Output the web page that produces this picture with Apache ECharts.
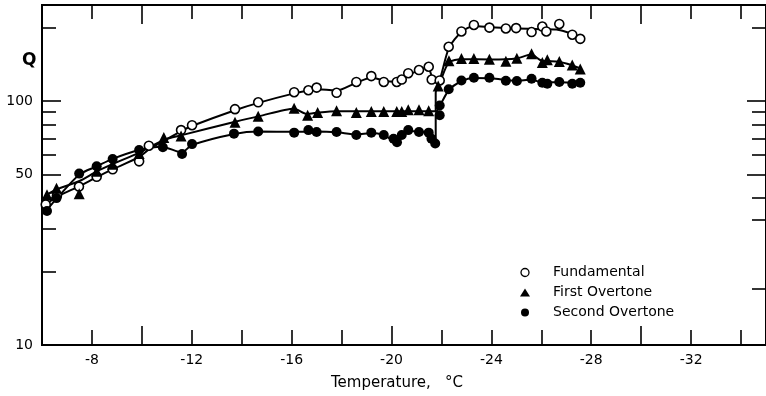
<!DOCTYPE html>
<html><head><meta charset="utf-8">
<script src="https://cdn.jsdelivr.net/npm/echarts@6/dist/echarts.min.js"></script>
<style>html,body{margin:0;padding:0;background:#fff}#c{width:766px;height:396px}</style>
</head><body><div id="c"></div>
<script>
// ---- data (Temperature °C, Q) ----
const fundamentalPts = [[-6.15,37.7],[-6.6,41],[-7.48,44.6],[-8.19,48.9],[-8.83,52.5],[-9.89,56.6],[-10.28,65.6],[-11.57,76],[-12.01,79.6],[-13.73,92.6],[-14.66,98.8],[-16.1,108.7],[-16.67,110.7],[-17.0,113.5],[-17.8,108.1],[-18.59,119.7],[-19.19,126.5],[-19.69,119.7],[-20.21,119.7],[-20.41,122.5],[-20.67,130],[-21.1,134],[-21.49,138.2],[-21.61,122.5],[-21.93,121.4],[-22.29,166.9],[-22.8,192.8],[-23.3,205],[-23.92,200],[-24.58,198.3],[-24.99,199],[-25.61,191.7],[-26.04,202],[-26.2,192.8],[-26.72,207],[-27.24,187],[-27.56,179.8]];
const firstOvertonePts = [[-6.2,41.3],[-6.58,43.9],[-7.49,41.7],[-8.19,51.5],[-8.83,55],[-9.89,61],[-10.88,70.8],[-11.57,71.9],[-13.73,81.9],[-14.66,86.6],[-16.1,93.5],[-16.64,87.4],[-17.04,89.8],[-17.8,91.2],[-18.59,89.8],[-19.19,90.6],[-19.69,90.6],[-20.21,90.6],[-20.41,90.6],[-20.67,92],[-21.1,92],[-21.49,91.2],[-21.87,115.3],[-22.3,146.1],[-22.8,149.4],[-23.3,149.4],[-23.92,148.4],[-24.58,145.6],[-25.02,149.8],[-25.61,156.4],[-26.04,143.9],[-26.24,147.5],[-26.72,145.3],[-27.24,140.4],[-27.56,135.3]];
const secondOvertonePts = [[-6.2,35.4],[-6.58,40],[-7.49,50.4],[-8.19,54],[-8.83,57.9],[-9.89,63],[-10.84,64.6],[-11.61,60.7],[-12.01,66.6],[-13.69,73.5],[-14.66,75],[-16.1,74.2],[-16.67,76],[-17.0,74.7],[-17.8,74.7],[-18.59,72.6],[-19.19,74.2],[-19.69,72.6],[-20.08,70],[-20.22,67.8],[-20.41,72.6],[-20.67,76],[-21.1,74.7],[-21.49,74.2],[-21.6,70],[-21.75,67],[-21.93,87.4],[-21.93,95.8],[-22.29,111.7],[-22.8,121.4],[-23.3,124.5],[-23.92,124.5],[-24.58,121],[-25.02,120.8],[-25.61,123.4],[-26.04,118.9],[-26.24,117.8],[-26.72,119.7],[-27.24,117.8],[-27.56,118.9]];

// hand-drawn fitted curves
const fundamentalCurve = [[-6.1,37.5],[-6.6,40.5],[-7.5,44.8],[-8.2,48.8],[-8.8,52.3],[-9.9,59],[-10.3,63.5],[-11.6,75.5],[-12,79],[-13.7,91.5],[-14.7,98.5],[-16.1,107.5],[-16.7,110.5],[-17.2,111.5],[-17.8,110.5],[-18.6,119],[-19.2,125],[-19.7,121],[-20.2,120],[-20.7,128.5],[-21.1,133.5],[-21.45,137.5],[-21.62,126],[-21.8,119],[-21.93,122],[-22.3,165],[-22.8,192],[-23.3,203],[-24,200.5],[-25,198.5],[-26,197],[-26.6,196.5],[-27.2,189],[-27.6,180]];
const firstOvertoneCurve = [[-6.2,41.3],[-6.6,43.5],[-7.5,47],[-8.2,51.5],[-8.8,55],[-9.9,61.5],[-10.9,69.5],[-11.6,72.5],[-13.7,82],[-14.7,86.7],[-16.1,93],[-16.6,88.5],[-17.1,89.8],[-17.8,90.8],[-19,90.8],[-21.7,90.8],[-21.77,90.8],[-21.77,108],[-21.95,120],[-22.3,144],[-22.8,148.5],[-24,148],[-25,149.5],[-25.6,155],[-26.0,146.5],[-26.7,145],[-27.2,140.5],[-27.6,135.5]];
const secondOvertoneCurve = [[-6.2,35.8],[-6.6,40],[-7.5,50],[-8.2,54],[-8.8,57.8],[-9.9,63],[-10.8,65],[-11.6,61.5],[-12,66],[-13.7,73.3],[-14.7,75],[-16.1,74.8],[-17,75],[-17.8,74.5],[-18.6,73],[-19.2,74],[-19.7,72.5],[-20.15,68.5],[-20.4,71.5],[-20.7,75.5],[-21.1,74.7],[-21.5,74],[-21.65,69],[-21.77,67.3],[-21.77,88],[-21.95,96],[-22.3,111],[-22.8,120.5],[-23.3,124.3],[-24,124],[-25,121],[-25.6,122.5],[-26,119.5],[-26.7,119.5],[-27.6,118.5]];

// ticks / labels
const xLabelValues = [-8,-12,-16,-20,-24,-28,-32];
const xMajorTicks = [-10,-20,-30];
const xMinorTicks = [-8,-12,-14,-16,-18,-22,-24,-26,-28,-32,-34];
const yLabelValues = [10,50,100];
const yLeftMajorTicks = [50,100];
const yLeftMinorTicks = [20,30,40,60,70,80,90,200];
const yRightMajorTicks = [50,100];
const yRightMinorTicks = [17,32.6,40,60,70,80,90,200];

const FONT = 'DejaVu Sans';
const X_MIN = -35, X_MAX = -6, Y_MIN = 10, Y_MAX = 247.5;

function xAxis(pos, ticks, len, labels) {
  return {
    type: 'value', gridIndex: 0, position: pos, min: X_MIN, max: X_MAX, inverse: true,
    axisLine: { show: true, onZero: false, lineStyle: { color: '#000', width: 2 } },
    splitLine: { show: false },
    axisTick: { show: true, inside: true, length: len, customValues: ticks, lineStyle: { color: '#000', width: 1.6 } },
    axisLabel: labels ? { show: true, customValues: labels, color: '#000', fontSize: 14, fontFamily: FONT, margin: 8 } : { show: false },
    name: labels ? 'Temperature,   °C' : '',
    nameLocation: 'middle', nameGap: 31,
    nameTextStyle: { color: '#000', fontSize: 15, fontFamily: FONT, padding: [0, 14, 0, 0] }
  };
}
function yAxis(pos, ticks, len, labels) {
  return {
    type: 'log', logBase: 10, gridIndex: 0, position: pos, min: Y_MIN, max: Y_MAX,
    axisLine: { show: true, onZero: false, lineStyle: { color: '#000', width: 2 } },
    splitLine: { show: false },
    axisTick: { show: true, inside: true, length: len, customValues: ticks, lineStyle: { color: '#000', width: 1.6 } },
    axisLabel: labels ? { show: true, customValues: labels, color: '#000', fontSize: 14, fontFamily: FONT, margin: 9 } : { show: false }
  };
}

const chart = echarts.init(document.getElementById('c'), null, { renderer: 'canvas' });
const lineBase = { type: 'line', xAxisIndex: 0, yAxisIndex: 0, showSymbol: false, smooth: 0.25,
  lineStyle: { color: '#000', width: 2 }, silent: true, z: 2 };
chart.setOption({
  animation: false,
  backgroundColor: '#fff',
  grid: { left: 42, top: 5, width: 729, height: 347, containLabel: false },
  title: { text: 'Q', left: 17, top: 47, textStyle: { fontSize: 17, fontWeight: 'bold', fontFamily: FONT, color: '#000' } },
  legend: {
    orient: 'vertical', left: 515, top: 260, itemWidth: 10, itemHeight: 8, itemGap: 5,
    textStyle: { fontSize: 14, fontFamily: FONT, color: '#000', lineHeight: 15, padding: [0, 0, 0, 18] },
    data: [
      { name: 'Fundamental', icon: 'circle', itemStyle: { color: '#fff', borderColor: '#000', borderWidth: 1.3 } },
      { name: 'First Overtone', icon: 'triangle', itemStyle: { color: '#000' } },
      { name: 'Second Overtone', icon: 'circle', itemStyle: { color: '#000' } }
    ]
  },
  xAxis: [
    xAxis('bottom', xMinorTicks, 15, xLabelValues),
    xAxis('bottom', xMajorTicks, 19, null),
    xAxis('top', xMinorTicks, 14, null),
    xAxis('top', xMajorTicks, 19, null)
  ],
  yAxis: [
    yAxis('left', yLeftMinorTicks, 14, yLabelValues),
    yAxis('left', yLeftMajorTicks, 19, null),
    yAxis('right', yRightMinorTicks, 14, null),
    yAxis('right', yRightMajorTicks, 19, null)
  ],
  series: [
    Object.assign({ name: 'Fundamental curve', data: fundamentalCurve }, lineBase),
    Object.assign({ name: 'First Overtone curve', data: firstOvertoneCurve }, lineBase),
    Object.assign({ name: 'Second Overtone curve', data: secondOvertoneCurve }, lineBase),
    { name: 'Fundamental', type: 'scatter', data: fundamentalPts, symbol: 'circle', symbolSize: 9, z: 5,
      itemStyle: { color: '#fff', borderColor: '#000', borderWidth: 1.6, opacity: 1 } },
    { name: 'First Overtone', type: 'scatter', data: firstOvertonePts, symbol: 'triangle', symbolSize: 11, z: 5,
      itemStyle: { color: '#000', opacity: 1 } },
    { name: 'Second Overtone', type: 'scatter', data: secondOvertonePts, symbol: 'circle', symbolSize: 10, z: 5,
      itemStyle: { color: '#000', opacity: 1 } }
  ]
});
</script></body></html>
